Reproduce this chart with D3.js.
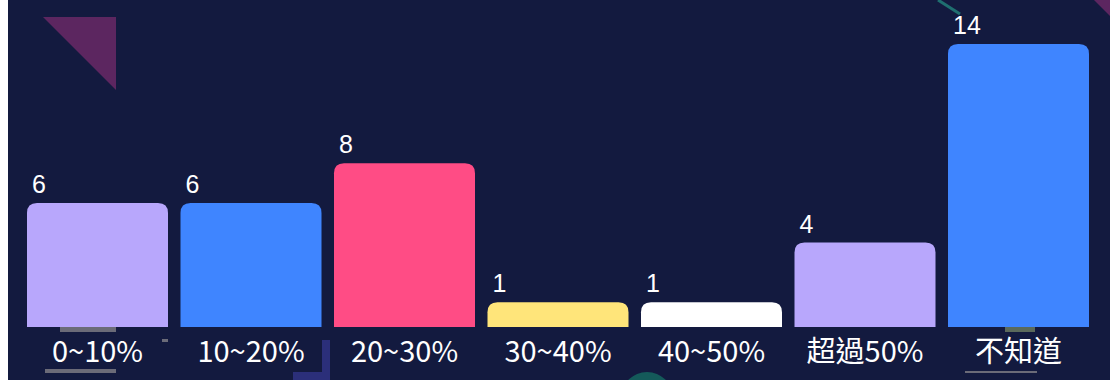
<!DOCTYPE html>
<html>
<head>
<meta charset="utf-8">
<script src="https://cdn.jsdelivr.net/npm/d3@7"></script>
<style>
  html, body { margin: 0; padding: 0; background: #ffffff; }
  svg { display: block; }
</style>
</head>
<body>
<svg id="chart" width="1110" height="380"></svg>
<script>
const categories = ["0~10%", "10~20%", "20~30%", "30~40%", "40~50%", "超過50%", "不知道"];
const values = [6, 6, 8, 1, 1, 4, 14];
const barColors = ["#b8a7fc", "#3f85ff", "#ff4c85", "#ffe57a", "#ffffff", "#b8a7fc", "#3f85ff"];

const W = 1110, H = 380;
const svg = d3.select("#chart");

// background panel (leaves a thin white strip on the left)
svg.append("rect").attr("x", 8).attr("y", 0).attr("width", W - 8).attr("height", H).attr("fill", "#131a3f");

// decorative background shapes
const deco = svg.append("g");
deco.append("path").attr("d", "M43,17 L116,17 L116,90 Z").attr("fill", "#5c2660");
deco.append("line").attr("x1", 938).attr("y1", 0).attr("x2", 960).attr("y2", 14).attr("stroke", "#1f6f70").attr("stroke-width", 3);
deco.append("path").attr("d", "M1094,0 L1110,0 L1110,16 Z").attr("fill", "#5c2660");
deco.append("rect").attr("x", 60).attr("y", 327).attr("width", 56).attr("height", 5).attr("fill", "#6b6b78");
deco.append("rect").attr("x", 45).attr("y", 369).attr("width", 71).attr("height", 4).attr("fill", "#6b6b78");
deco.append("rect").attr("x", 162).attr("y", 339).attr("width", 6).attr("height", 3).attr("fill", "#6b6b78");
deco.append("path").attr("d", "M322,340 L330,340 L330,380 L293,380 L293,372 L322,372 Z").attr("fill", "#2b2f7a");
deco.append("circle").attr("cx", 647).attr("cy", 398).attr("r", 26).attr("fill", "#145a5a");
deco.append("rect").attr("x", 1005).attr("y", 327).attr("width", 30).attr("height", 5).attr("fill", "#5b6a5c");
deco.append("rect").attr("x", 965).attr("y", 371).attr("width", 72).attr("height", 2).attr("fill", "#6b6b78");

const x = d3.scaleBand().domain(categories).range([20.75, 1095.25]).paddingInner(0.0814).paddingOuter(0.0407);
const y = d3.scaleLinear().domain([-0.25, 14]).range([327, 44]);
const base = y(-0.25);
const r = 10;

function topRounded(x0, y0, w, h) {
  const rr = Math.min(r, h, w / 2);
  return `M${x0},${y0 + h} L${x0},${y0 + rr} Q${x0},${y0} ${x0 + rr},${y0} L${x0 + w - rr},${y0} Q${x0 + w},${y0} ${x0 + w},${y0 + rr} L${x0 + w},${y0 + h} Z`;
}

const data = categories.map((c, i) => ({ c, v: values[i], color: barColors[i] }));

svg.append("g").selectAll("path").data(data).join("path")
  .attr("d", d => topRounded(x(d.c), y(d.v), x.bandwidth(), base - y(d.v)))
  .attr("fill", d => d.color);

svg.append("g").selectAll("text").data(data).join("text")
  .attr("x", d => x(d.c) + 5)
  .attr("y", d => y(d.v) - 10)
  .attr("fill", "#ffffff")
  .attr("font-family", "'Liberation Sans', Arial, sans-serif")
  .attr("font-size", 25)
  .text(d => d.v);

const xAxis = d3.axisBottom(x).tickSize(0).tickPadding(0);
const ax = svg.append("g").attr("transform", `translate(0,${base})`).call(xAxis);
ax.select(".domain").remove();
ax.selectAll("text")
  .attr("dy", null)
  .attr("y", 35)
  .attr("fill", "#ffffff")
  .attr("font-family", "'Noto Sans CJK TC', 'Noto Sans', sans-serif")
  .attr("font-size", 29);
</script>
</body>
</html>
